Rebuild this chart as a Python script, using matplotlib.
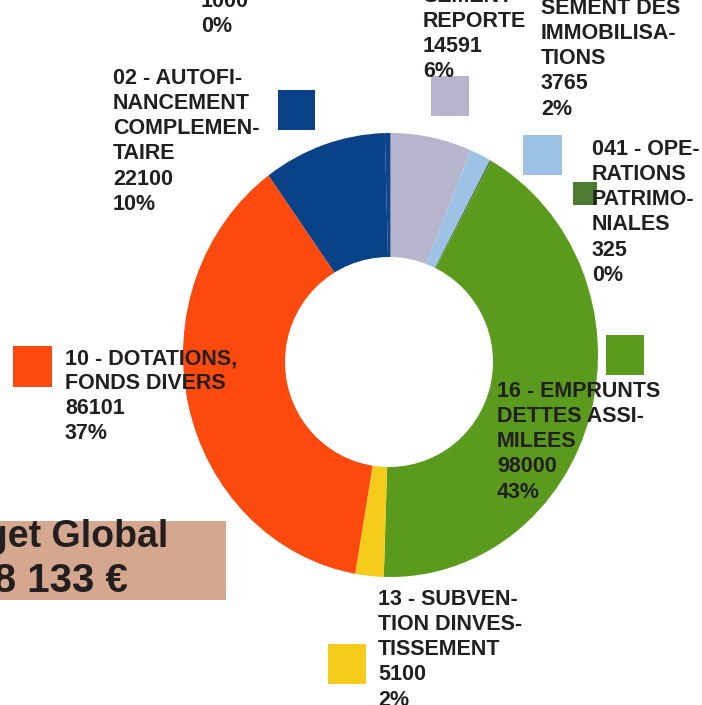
import matplotlib.pyplot as plt
from matplotlib.patches import Rectangle, Ellipse

plt.rcParams['font.family'] = ['Liberation Sans', 'DejaVu Sans']

# slices, clockwise from 12 o'clock
labels = ["SEMENT\nREPORTE", "SEMENT DES\nIMMOBILISA-\nTIONS", "041 - OPE-\nRATIONS\nPATRIMO-\nNIALES",
          "16 - EMPRUNTS\nDETTES ASSI-\nMILEES", "13 - SUBVEN-\nTION DINVES-\nTISSEMENT",
          "10 - DOTATIONS,\nFONDS DIVERS", "02 - AUTOFI-\nNANCEMENT\nCOMPLEMEN-\nTAIRE", ""]
values = [14591, 3765, 325, 98000, 5100, 86101, 22100, 1000]
percents = ["6%", "2%", "0%", "43%", "2%", "37%", "10%", "0%"]
colors = ['#b7b5cd', '#9cc3e5', '#4e7b32', '#5a9b1d', '#f5cb1c', '#fc4a0f', '#0a4287', '#0d4489']

budget_lines = ["Budget Global", "228 133 €"]

W, H = 702, 705
fig = plt.figure(figsize=(W / 100, H / 100), dpi=100)

# donut in its own axes (slightly taller than wide, like the original)
pax = fig.add_axes([183 / W, (H - 577) / H, 415 / W, 444 / H])
pax.pie(values, colors=colors, radius=1, startangle=90, counterclock=False,
        wedgeprops=dict(edgecolor='none'))
pax.set_xlim(-1, 1)
pax.set_ylim(-1, 1)
pax.set_aspect('auto')
pax.axis('off')

# overlay axes in pixel coords (y down) for hole and labels
ax = fig.add_axes([0, 0, 1, 1])
ax.set_zorder(2)
ax.patch.set_alpha(0)
ax.add_patch(Ellipse((389, 362), 208, 210, facecolor='white', edgecolor='none'))

# label boxes: (text x, first cap top y, square x, square y, square w, square h)
places = [
    (423, -13, 431, 76, 38, 40),
    (541, -1, 523, 135, 39, 40),
    (592, 140, 573, 182, 24, 23),
    (497, 382, 606, 335, 38, 40),
    (378, 590, 328, 644, 38, 40),
    (65, 349, 13, 346, 39, 41),
    (113, 69, 278, 90, 37, 40),
    (201, -8, None, None, None, None),
]
for lab, val, pct, col, pl in zip(labels, values, percents, colors, places):
    tx, ty, sx, sy, sw, sh = pl
    txt = (lab + "\n" if lab else "") + f"{val}\n{pct}"
    ax.text(tx, ty - 1, txt, ha='left', va='top', fontsize=15.5, fontweight='bold',
            color='#231f20', linespacing=1.26)
    if sx is not None:
        ax.add_patch(Rectangle((sx, sy), sw, sh, facecolor=col, edgecolor='none'))

# budget box
ax.add_patch(Rectangle((-10, 521), 236, 79, facecolor='#d5a78f', edgecolor='none'))
ax.text(168, 547, budget_lines[0], ha='right', va='baseline', fontsize=27,
        fontweight='bold', color='#231f20')
ax.text(128, 592, budget_lines[1], ha='right', va='baseline', fontsize=29,
        fontweight='bold', color='#231f20')

ax.set_xlim(0, W)
ax.set_ylim(H, 0)
ax.axis('off')
fig.savefig('out.png', dpi=100)
